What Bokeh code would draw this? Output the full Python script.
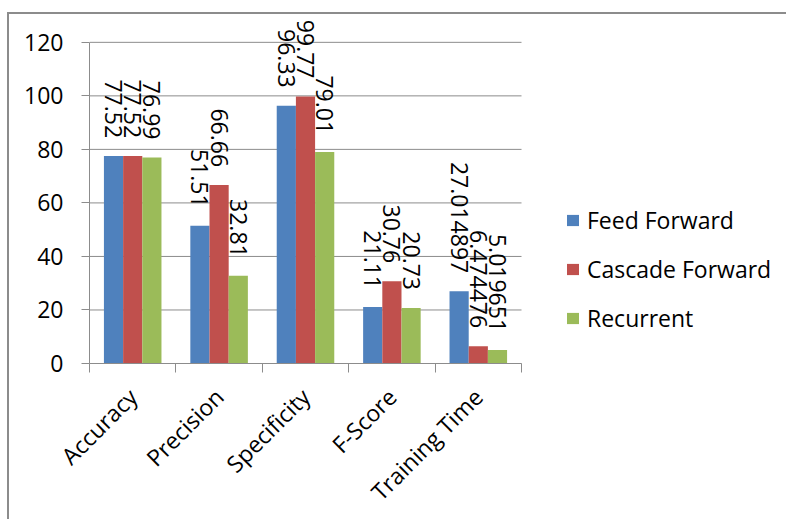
import numpy as np
from bokeh.plotting import figure
from bokeh.models import Range1d, FixedTicker, Legend, LegendItem, ColumnDataSource
from bokeh.core.properties import value
from bokeh.embed import file_html
from bokeh.resources import INLINE

# Metrics for the three network types
categories = ["Accuracy", "Precision", "Specificity", "F-Score", "Training Time"]
feed_forward = [77.52, 51.51, 96.33, 21.11, 27.014897]
cascade_forward = [77.52, 66.66, 99.77, 30.76, 6.474476]
recurrent = [76.99, 32.81, 79.01, 20.73, 5.019651]
series_names = ["Feed Forward", "Cascade Forward", "Recurrent"]
series_colors = ["#4F81BD", "#C0504D", "#9BBB59"]
y_ticks = [0, 20, 40, 60, 80, 100, 120]

FONT = "Open Sans"
GREY = "#8c8c8c"
bar_w = 0.222

n_cat = len(categories)
centers = np.arange(n_cat) + 0.5
boundaries = list(range(n_cat + 1))

# The frame runs to the right edge so the legend sits inside it;
# the bars occupy 432 of its 699 pixels.
plot_px, frame_px = 432, 699

p = figure(
    width=779, height=507,
    x_range=Range1d(0, n_cat * frame_px / plot_px),
    y_range=Range1d(0, 130.4),
    output_backend="svg", toolbar_location=None,
    min_border_left=80, min_border_right=0,
    min_border_top=0, min_border_bottom=157,
)
p.outline_line_color = None
p.background_fill_color = "white"
p.border_fill_color = "white"
p.styles = {
    "margin-left": "7px", "margin-top": "12px",
    "border-left": f"2px solid {GREY}", "border-top": f"2px solid {GREY}",
}

# y axis
p.yaxis.ticker = FixedTicker(ticks=y_ticks, minor_ticks=[])
p.yaxis.bounds = (0, 120)
p.yaxis.axis_line_color = GREY
p.yaxis.major_tick_line_color = GREY
p.yaxis.major_tick_out = 8
p.yaxis.major_tick_in = 0
p.yaxis.minor_tick_line_color = None
p.yaxis.major_label_standoff = 18
p.yaxis.major_label_text_font = FONT
p.yaxis.major_label_text_font_size = "23px"
p.yaxis.major_label_text_color = "black"

# x axis: labels at category centres, ticks at category boundaries
p.xaxis.ticker = FixedTicker(ticks=list(centers), minor_ticks=boundaries)
p.xaxis.bounds = (0, n_cat)
p.xaxis.major_label_overrides = {float(c): name for c, name in zip(centers, categories)}
p.xaxis.axis_line_color = GREY
p.xaxis.major_tick_line_color = None
p.xaxis.major_tick_out = 0
p.xaxis.major_tick_in = 0
p.xaxis.minor_tick_line_color = GREY
p.xaxis.minor_tick_out = 9
p.xaxis.minor_tick_in = 0
p.xaxis.major_label_orientation = np.pi / 4
p.xaxis.major_label_standoff = 20
p.xaxis.major_label_text_font = FONT
p.xaxis.major_label_text_font_size = "23px"
p.xaxis.major_label_text_color = "black"

p.xgrid.grid_line_color = None
p.ygrid.grid_line_color = None

# horizontal gridlines limited to the category span
p.segment(x0=[0] * len(y_ticks), x1=[n_cat] * len(y_ticks),
          y0=y_ticks, y1=y_ticks, line_color=GREY, line_width=1)

series_values = [feed_forward, cascade_forward, recurrent]
offsets = [-bar_w, 0.0, bar_w]

items = []
sources = []
for name, vals, color, off in zip(series_names, series_values, series_colors, offsets):
    src = ColumnDataSource(dict(
        x=centers + off,
        top=vals,
        label=[str(v) for v in vals],
    ))
    sources.append(src)
    r = p.vbar(x="x", top="top", width=bar_w, source=src,
               fill_color=color, line_color=None)
    items.append(LegendItem(label=name, renderers=[r]))

for src in sources:
    p.text(x="x", y="top", text="label", source=src,
           angle=-np.pi / 2, text_align="right", text_baseline="middle",
           y_offset=-18, text_font=value(FONT), text_font_size="23px",
           text_color="black")

legend = Legend(
    items=items, location=(476, 29),
    glyph_width=15, glyph_height=14, label_standoff=7,
    spacing=17, padding=0, margin=0,
    border_line_color=None, background_fill_alpha=0,
    label_text_font=FONT, label_text_font_size="23px",
    label_text_color="black",
)
p.add_layout(legend, "center")

open("out.html", "w").write(file_html(p, INLINE))
